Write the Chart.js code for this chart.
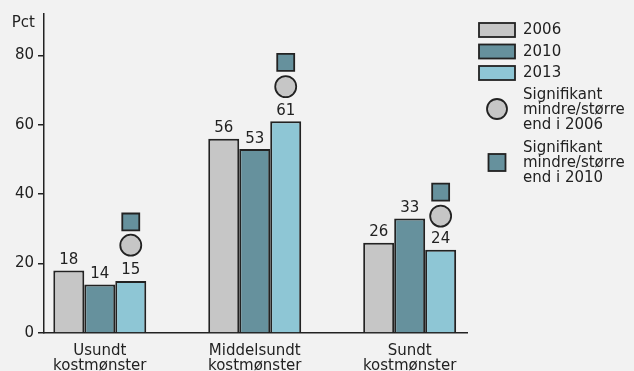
<!DOCTYPE html>
<html>
<head>
<meta charset="utf-8">
<script src="https://cdn.jsdelivr.net/npm/chart.js@4"></script>
<style>
  html, body { margin: 0; padding: 0; background: #f2f2f2; }
  #wrap { width: 634px; height: 371px; }
</style>
</head>
<body>
<div id="wrap"><canvas id="chart"></canvas></div>
<script>
// data
const categories = [['Usundt', 'kostmønster'], ['Middelsundt', 'kostmønster'], ['Sundt', 'kostmønster']];
const years = ['2006', '2010', '2013'];
const values2006 = [18, 56, 26];
const values2010 = [14, 53, 33];
const values2013 = [15, 61, 24];
const sigVs2006 = [25.3, 71, 33.7];   // circle markers above the 2013 bar
const sigVs2010 = [32, 78, 40.6];     // square markers above the 2013 bar
const yTicks = [0, 20, 40, 60, 80];
const sigLabels = [['Signifikant', 'mindre/større', 'end i 2006'], ['Signifikant', 'mindre/større', 'end i 2010']];

const FAMILY = "'DejaVu Sans', sans-serif";
const INK = '#222222';
const colors = ['#c6c6c6', '#66919d', '#8ec6d5'];
const CAT_PCT = 0.6;
const markerOffset = CAT_PCT / 3;   // centre of the third bar in a group

Chart.defaults.font.family = FAMILY;
Chart.defaults.font.size = 15;
Chart.defaults.color = INK;

function barSet(label, vals, color) {
    return {
        type: 'bar',
        label: label,
        data: vals.map((v, i) => ({ x: i, y: v })),
        backgroundColor: color,
        borderColor: INK,
        borderWidth: 2,
        borderSkipped: 'bottom',
        categoryPercentage: CAT_PCT,
        barPercentage: 1.0
    };
}

function markerSet(label, vals, style, radius, color) {
    return {
        type: 'scatter',
        label: label,
        data: vals.map((v, i) => ({ x: i + markerOffset, y: v })),
        pointStyle: style,
        pointRadius: radius,
        pointHoverRadius: radius,
        backgroundColor: color,
        borderColor: INK,
        borderWidth: 1.8
    };
}

// values above bars, the "Pct" unit and the legend on the right
const extras = {
    id: 'extras',
    afterDatasetsDraw(chart) {
        const ctx = chart.ctx;
        const area = chart.chartArea;
        ctx.save();
        ctx.fillStyle = INK;
        ctx.font = '15px ' + FAMILY;
        ctx.textAlign = 'center';
        ctx.textBaseline = 'bottom';
        [0, 1, 2].forEach(di => {
            const ds = chart.data.datasets[di];
            chart.getDatasetMeta(di).data.forEach((bar, i) => {
                ctx.fillText(String(ds.data[i].y), bar.x, bar.y - 3);
            });
        });

        ctx.textAlign = 'right';
        ctx.textBaseline = 'middle';
        ctx.fillText('Pct', area.left - 9, area.top + 9);

        // legend
        const lx = area.right + 12;
        const tx = lx + 44;
        ctx.lineWidth = 1.8;
        ctx.strokeStyle = INK;
        ctx.textAlign = 'left';
        years.forEach((y, k) => {
            const top = 23 + k * 21.5;
            ctx.fillStyle = colors[k];
            ctx.fillRect(lx, top, 36, 14);
            ctx.strokeRect(lx, top, 36, 14);
            ctx.fillStyle = INK;
            ctx.fillText(y, tx, top + 7.5);
        });

        // circle entry
        const cx = lx + 18;
        ctx.beginPath();
        ctx.arc(cx, 109, 10, 0, Math.PI * 2);
        ctx.fillStyle = colors[0];
        ctx.fill();
        ctx.stroke();
        ctx.fillStyle = INK;
        sigLabels[0].forEach((t, j) => ctx.fillText(t, tx, 95 + j * 15));

        // square entry
        ctx.fillStyle = colors[1];
        ctx.fillRect(cx - 8.5, 154, 17, 17);
        ctx.strokeRect(cx - 8.5, 154, 17, 17);
        ctx.fillStyle = INK;
        sigLabels[1].forEach((t, j) => ctx.fillText(t, tx, 148 + j * 15));
        ctx.restore();
    }
};

const chart = new Chart(document.getElementById('chart'), {
    type: 'bar',
    data: {
        datasets: [
            barSet('2006', values2006, colors[0]),
            barSet('2010', values2010, colors[1]),
            barSet('2013', values2013, colors[2]),
            markerSet('Signifikant mindre/større end i 2006', sigVs2006, 'circle', 10.5, colors[0]),
            markerSet('Signifikant mindre/større end i 2010', sigVs2010, 'rect', 12, colors[1])
        ]
    },
    options: {
        responsive: true,
        maintainAspectRatio: false,
        animation: false,
        layout: { padding: { top: 12, right: 167, left: 0, bottom: 0 } },
        scales: {
            x: {
                type: 'linear',
                offset: false,
                min: -0.36,
                max: 2.37,
                afterBuildTicks: s => { s.ticks = categories.map((c, i) => ({ value: i })); },
                afterFit: s => { s.height = 38; },
                grid: { display: false, offset: false },
                border: { display: true, color: INK, width: 1.5 },
                ticks: {
                    color: INK,
                    font: { size: 15, lineHeight: 0.97 },
                    padding: 3,
                    maxRotation: 0,
                    callback: v => categories[v]
                }
            },
            y: {
                min: 0,
                max: 92,
                afterBuildTicks: s => { s.ticks = yTicks.map(v => ({ value: v })); },
                afterFit: s => { s.width = 44; },
                grid: { drawOnChartArea: false, color: INK, tickLength: 6, lineWidth: 1.5 },
                border: { display: true, color: INK, width: 1.5 },
                ticks: { color: INK, padding: 4 }
            }
        },
        plugins: {
            legend: { display: false },
            tooltip: { enabled: false }
        }
    },
    plugins: [extras]
});
</script>
</body>
</html>
